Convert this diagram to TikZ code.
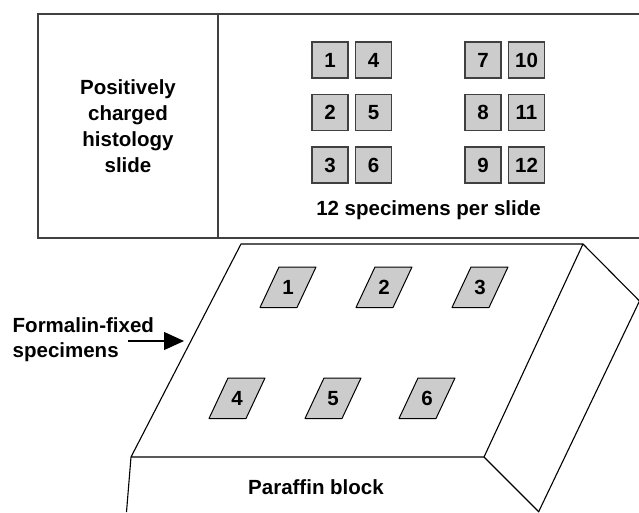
\documentclass[tikz,border=0pt]{standalone}
\usepackage{fontspec}
\setmainfont{Liberation Sans}
\usetikzlibrary{arrows.meta}
\begin{document}
\begin{tikzpicture}[x=1pt,y=-1pt,
  lbl/.style={font=\fontsize{20.5}{25}\selectfont\bfseries, inner sep=0pt, anchor=base},
  sq/.style={draw=black!75, line width=1.2pt, fill=black!20, minimum width=36pt, minimum height=36pt, inner sep=0pt, font=\fontsize{20.5}{24}\selectfont\bfseries},
  slideline/.style={draw=black!75, line width=1.6pt},
  blk/.style={draw=black, line width=1.1pt, line join=round},
  par/.style={draw=black, line width=1pt, fill=black!20, line join=round},
  plabel/.style={font=\fontsize{20.5}{24}\selectfont\bfseries, inner sep=0pt},
  ]
\useasboundingbox (0,0) rectangle (639,512);
\clip (0,0) rectangle (639,512);
% slide
\draw[slideline] (660,14) -- (38,14) -- (38,238) -- (660,238);
\draw[slideline] (218,14) -- (218,238);
\node[lbl] (t1) at (128,94) {Positively};
\node[lbl] (t2) at (128,120) {charged};
\node[lbl] (t3) at (128,146) {histology};
\node[lbl] (t4) at (128,172) {slide};
% squares
\node[sq] (s1) at (330,60) {1};
\node[sq] (s2) at (330,112.5) {2};
\node[sq] (s3) at (330,165) {3};
\node[sq] (s4) at (373.5,60) {4};
\node[sq] (s5) at (373.5,112.5) {5};
\node[sq] (s6) at (373.5,165) {6};
\node[sq] (s7) at (483,60) {7};
\node[sq] (s8) at (483,112.5) {8};
\node[sq] (s9) at (483,165) {9};
\node[sq] (s10) at (526.5,60) {10};
\node[sq] (s11) at (526.5,112.5) {11};
\node[sq] (s12) at (526.5,165) {12};
\node[lbl] (cap) at (428.5,215) {12 specimens per slide};
% block
\coordinate (TL) at (241,244);
\coordinate (TR) at (583,244);
\coordinate (FR) at (484,457);
\coordinate (FL) at (131,457);
\coordinate (RV) at (639.5,301);
\coordinate (RB) at (538,512);
\coordinate (FB) at (126.5,512);
\coordinate (RVB) at (538.5,512);
\draw[blk] (FB) -- (FL) -- (TL) -- (TR) -- (FR) -- (FL);
\draw[blk] (TR) -- (RV) -- ++(-101,211);
\draw[blk] (FR) -- ++(55,55);
% specimens in block
\foreach \n/\x/\y in {1/279/267, 2/375/267, 3/471/267, 4/228/378, 5/324/378, 6/418/378} {
  \draw[par] (\x,\y) -- ++(37,0) -- ++(-19,40.5) -- ++(-37,0) -- cycle;
  \node[plabel] (p\n) at (\x+9,\y+20.5) {\n};
}
\node[lbl] (pb) at (316,494) {Paraffin block};
% arrow label
\node[lbl, anchor=base west] (f1) at (12.5,332) {Formalin-fixed};
\node[lbl, anchor=base west] (f2) at (12.5,357) {specimens};
\coordinate (as) at (128,341);
\coordinate (ae) at (184,341);
\draw[line width=1.1pt, -{Triangle[length=20pt,width=18pt]}] (as) -- (ae);
\end{tikzpicture}
\end{document}
